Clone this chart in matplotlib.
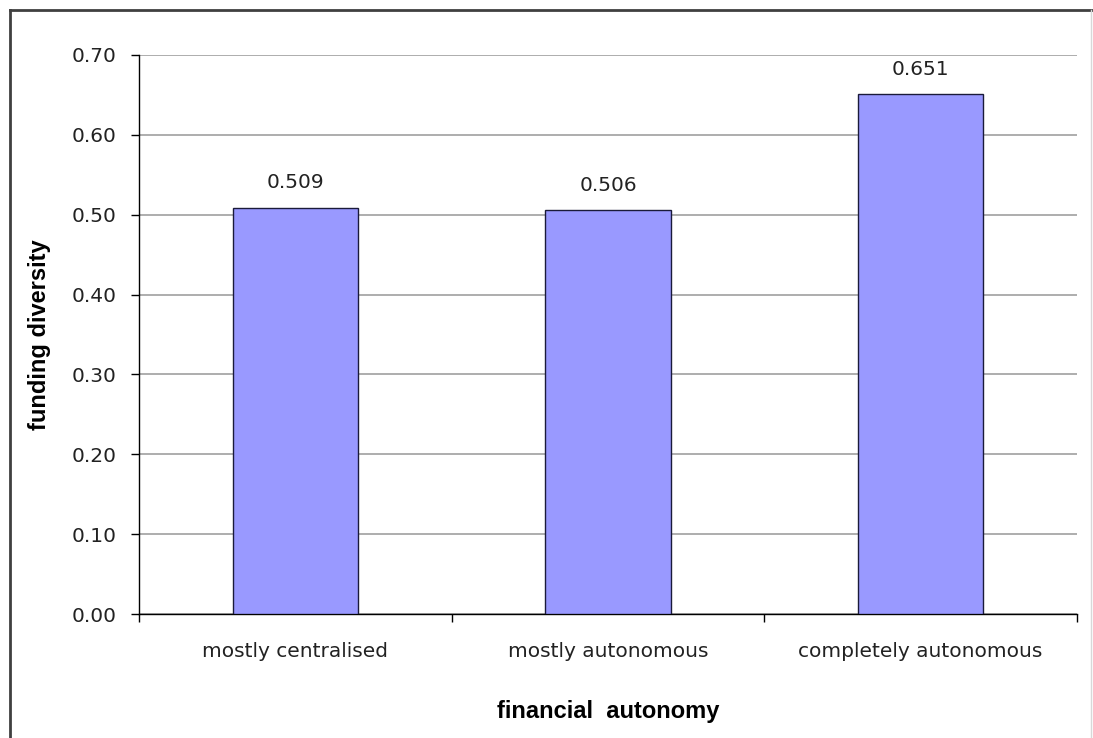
import matplotlib
matplotlib.use("Agg")
import matplotlib.pyplot as plt
from matplotlib.lines import Line2D

categories = ["mostly centralised", "mostly autonomous", "completely autonomous"]
diversity = [0.509, 0.506, 0.651]
value_labels = ["0.509", "0.506", "0.651"]
y_ticks = [0.0, 0.1, 0.2, 0.3, 0.4, 0.5, 0.6, 0.7]

W, H = 1093, 738
fig = plt.figure(figsize=(W / 100, H / 100), dpi=100)
fig.patch.set_facecolor("white")

# chart frame (top/left edges dark, right edge faint)
fig.add_artist(Line2D([10 / W, 1], [1 - 10 / H, 1 - 10 / H], color="#404040", lw=2))
fig.add_artist(Line2D([10 / W, 10 / W], [0, 1 - 10 / H], color="#404040", lw=2))
fig.add_artist(Line2D([1091 / W, 1091 / W], [0, 1 - 10 / H], color="#d8d8d8", lw=1))

# title sits above the frame, only its descenders fall inside the image
fig.text(0.5, 1 + 10 / H, "Funding diversity by financial autonomy",
         ha="center", va="baseline", fontsize=20, fontweight="bold",
         family="Liberation Sans")

ax = fig.add_axes([139 / W, (H - 614) / H, 938 / W, 559 / H])
x = list(range(len(categories)))
ax.bar(x, diversity, width=0.4, color="#9999ff", edgecolor="#1a1a3a",
       linewidth=1, zorder=3)

for xi, v, lab in zip(x, diversity, value_labels):
    ax.annotate(lab, (xi, v), xytext=(0, 11), textcoords="offset points",
                ha="center", va="bottom", fontsize=14.5, color="#222222",
                family="DejaVu Sans")

ax.set_xlim(-0.5, len(categories) - 0.5)
ax.set_ylim(0, 0.7)
ax.set_yticks(y_ticks)
ax.set_yticklabels([f"{t:.2f}" for t in y_ticks], fontsize=14.5,
                   family="DejaVu Sans", color="#222222")
ax.yaxis.grid(True, color="#a0a0a0", linewidth=1.2, zorder=0)
ax.set_axisbelow(True)

# category ticks sit on the boundaries, labels in the middle
ax.set_xticks([-0.5, 0.5, 1.5, 2.5])
ax.set_xticklabels([])
ax.set_xticks(x, minor=True)
ax.set_xticklabels(categories, minor=True, fontsize=14.5,
                   family="DejaVu Sans", color="#222222")
ax.tick_params(axis="x", which="minor", length=0, pad=20)
ax.tick_params(axis="x", which="major", length=6, width=1, direction="out")
ax.tick_params(axis="y", length=6, width=1, direction="out", pad=10)

for side in ("top", "right"):
    ax.spines[side].set_visible(False)
for side in ("left", "bottom"):
    ax.spines[side].set_color("black")
    ax.spines[side].set_linewidth(1)

ax.set_xlabel("financial  autonomy", fontsize=17, fontweight="bold",
              family="Liberation Sans", labelpad=28)
ax.set_ylabel("funding diversity", fontsize=17, fontweight="bold",
              family="Liberation Sans", labelpad=15)

fig.savefig("out.png", dpi=100)
